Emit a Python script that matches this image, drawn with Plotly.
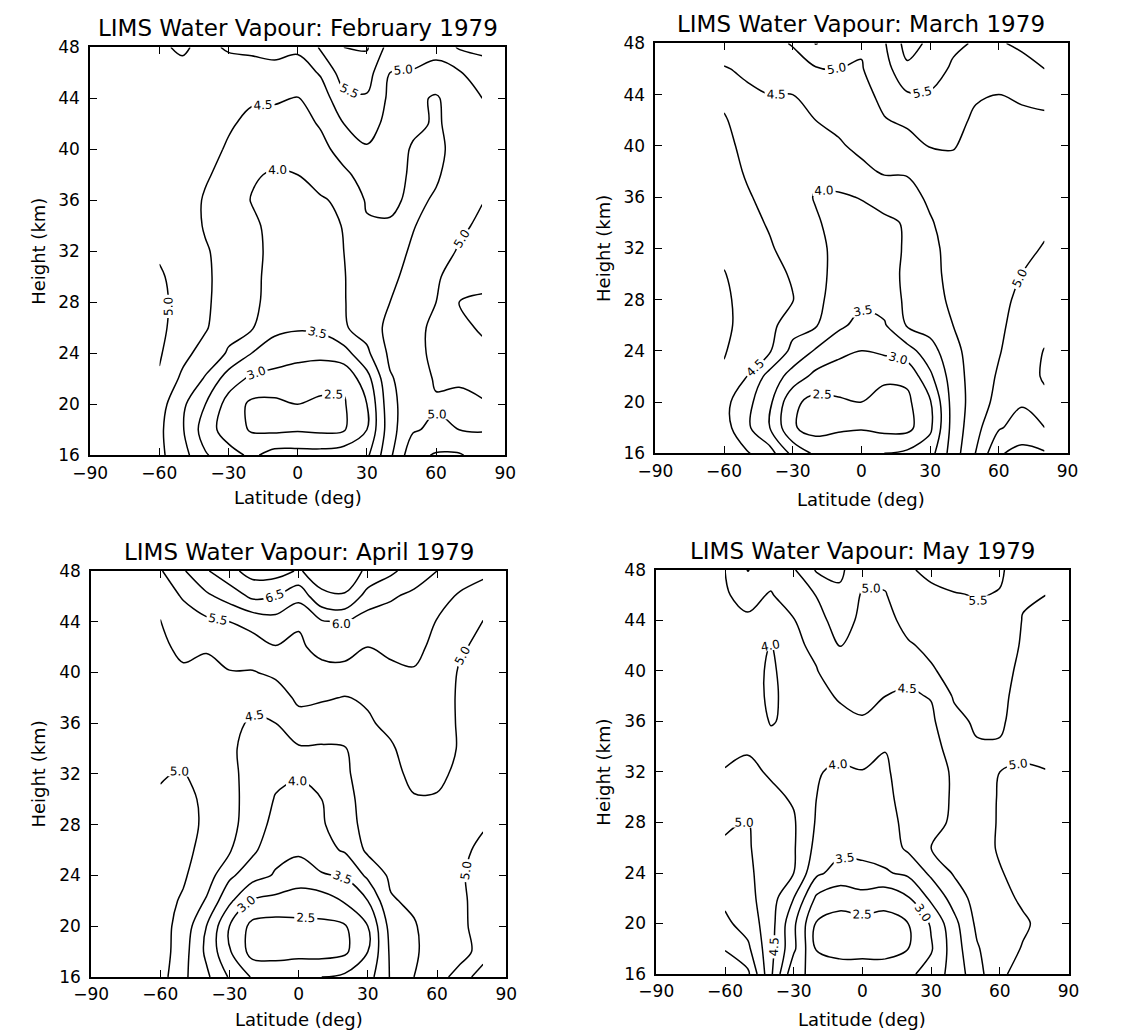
import numpy as np
import plotly.graph_objects as go

# ---------------- data ----------------
latitudes = [-60, -50, -40, -30, -20, -10, 0, 10, 20, 30, 40, 50, 60, 70, 80]
heights = [16, 18, 20, 22, 24, 26, 28, 30, 32, 34, 36, 38, 40, 42, 44, 46, 48]
x_ticks = [-90, -60, -30, 0, 30, 60, 90]
y_ticks = [16, 20, 24, 28, 32, 36, 40, 44, 48]
levels = dict(start=2.5, end=7.0, size=0.5)

# water vapour (ppmv); one list per latitude column, values from 16 km to 48 km
feb_columns = [
    [4.6, 4.6, 4.7, 4.95, 5.05, 5.1, 5.1, 5.05, 4.95, 4.9, 4.85, 4.85, 4.85, 4.85, 4.85, 4.9, 4.95],
    [4.2, 4.05, 4.1, 4.4, 4.65, 4.8, 4.85, 4.85, 4.85, 4.8, 4.75, 4.75, 4.8, 4.8, 4.8, 4.9, 5.05],
    [3.55, 3.25, 3.5, 3.95, 4.3, 4.55, 4.6, 4.6, 4.55, 4.45, 4.45, 4.55, 4.65, 4.7, 4.75, 4.8, 4.9],
    [3.2, 2.75, 2.8, 3.25, 3.95, 4.15, 4.2, 4.25, 4.3, 4.3, 4.3, 4.35, 4.45, 4.55, 4.65, 4.8, 5.05],
    [2.9, 2.45, 2.4, 2.9, 3.5, 4.05, 4.15, 4.15, 4.15, 4.1, 3.98, 4.05, 4.25, 4.4, 4.55, 4.8, 5.1],
    [3.2, 2.4, 2.4, 2.8, 3.3, 3.6, 3.75, 3.8, 3.85, 3.85, 3.85, 3.95, 4.2, 4.35, 4.55, 4.85, 5.15],
    [3.2, 2.45, 2.5, 2.75, 3.15, 3.55, 3.65, 3.7, 3.75, 3.8, 3.85, 4.0, 4.15, 4.3, 4.48, 4.75, 5.1],
    [3.2, 2.4, 2.45, 2.6, 3.15, 3.6, 3.75, 3.8, 3.85, 3.85, 3.95, 4.2, 4.35, 4.55, 4.75, 5.05, 5.55],
    [3.3, 2.45, 2.45, 2.6, 3.3, 3.95, 3.97, 3.97, 4.0, 4.02, 4.1, 4.4, 4.7, 5.0, 5.35, 5.75, 6.0],
    [3.4, 3.0, 3.0, 3.3, 3.9, 4.2, 4.3, 4.35, 4.4, 4.45, 4.55, 4.7, 4.95, 5.2, 5.45, 5.7, 6.05],
    [4.4, 4.3, 4.35, 4.45, 4.6, 4.65, 4.5, 4.4, 4.35, 4.45, 4.6, 4.75, 4.75, 4.85, 4.9, 5.0, 5.3],
    [5.35, 4.95, 4.8, 4.75, 4.8, 4.8, 4.75, 4.65, 4.55, 4.48, 4.4, 4.4, 4.45, 4.6, 4.6, 4.95, 5.3],
    [5.55, 5.1, 4.95, 5.05, 5.15, 5.15, 5.0, 4.9, 4.75, 4.65, 4.55, 4.45, 4.4, 4.45, 4.45, 4.8, 5.2],
    [5.55, 5.0, 4.9, 5.05, 5.25, 5.4, 5.5, 5.35, 5.05, 4.9, 4.8, 4.7, 4.65, 4.65, 4.75, 4.95, 5.55],
    [5.3, 4.97, 4.97, 5.1, 5.4, 5.55, 5.55, 5.4, 5.25, 5.1, 4.98, 4.9, 4.85, 4.9, 5.0, 5.3, 5.6],
]

mar_columns = [
    [5.0, 4.7, 4.65, 4.9, 5.05, 5.15, 5.1, 5.02, 4.9, 4.8, 4.75, 4.7, 4.6, 4.52, 4.45, 4.48, 4.65],
    [4.55, 4.1, 4.15, 4.5, 4.65, 4.75, 4.8, 4.8, 4.75, 4.65, 4.55, 4.45, 4.4, 4.4, 4.45, 4.55, 4.7],
    [4.2, 3.5, 3.6, 3.8, 4.55, 4.65, 4.7, 4.65, 4.55, 4.45, 4.35, 4.3, 4.35, 4.4, 4.5, 4.6, 4.8],
    [3.35, 2.55, 2.6, 3.3, 3.85, 4.2, 4.52, 4.45, 4.3, 4.25, 4.2, 4.25, 4.3, 4.42, 4.5, 4.7, 5.05],
    [2.9, 2.3, 2.35, 2.85, 3.45, 4.05, 4.15, 4.2, 4.15, 4.05, 3.97, 4.1, 4.3, 4.5, 4.65, 4.95, 5.52],
    [2.95, 2.4, 2.45, 2.7, 3.15, 3.6, 3.75, 3.8, 3.85, 3.85, 3.95, 4.2, 4.45, 4.6, 4.75, 5.0, 5.3],
    [3.0, 2.45, 2.5, 2.75, 3.0, 3.35, 3.6, 3.7, 3.75, 3.85, 4.02, 4.4, 4.6, 4.7, 4.82, 4.97, 5.05],
    [3.0, 2.35, 2.4, 2.55, 3.1, 3.45, 3.7, 3.8, 3.85, 3.9, 4.2, 4.55, 4.75, 4.97, 5.15, 5.3, 5.45],
    [3.1, 2.35, 2.4, 2.6, 3.3, 4.05, 4.1, 4.1, 4.05, 4.05, 4.3, 4.55, 4.8, 5.1, 5.45, 5.9, 6.2],
    [3.3, 2.9, 2.95, 3.4, 3.8, 4.2, 4.3, 4.35, 4.35, 4.45, 4.6, 4.8, 5.02, 5.25, 5.45, 5.75, 5.9],
    [4.25, 4.2, 4.2, 4.25, 4.35, 4.5, 4.6, 4.65, 4.7, 4.75, 4.8, 4.9, 5.02, 5.15, 5.3, 5.42, 5.6],
    [5.02, 4.85, 4.75, 4.75, 4.75, 4.78, 4.8, 4.82, 4.82, 4.83, 4.85, 4.88, 4.9, 4.92, 5.05, 5.25, 5.45],
    [5.95, 5.45, 5.15, 5.05, 4.97, 4.93, 4.9, 4.88, 4.87, 4.87, 4.88, 4.9, 4.92, 4.95, 5.0, 5.2, 5.45],
    [6.15, 5.7, 5.45, 5.3, 5.25, 5.15, 5.08, 5.0, 4.93, 4.9, 4.9, 4.92, 4.95, 4.97, 5.02, 5.3, 5.6],
    [6.05, 5.5, 5.4, 5.55, 5.52, 5.35, 5.2, 5.1, 5.02, 4.95, 4.93, 4.93, 4.95, 4.97, 5.05, 5.5, 5.7],
]

apr_columns = [
    [5.2, 5.25, 5.2, 5.15, 5.1, 5.08, 5.05, 5.03, 4.98, 4.9, 4.85, 4.85, 4.88, 4.93, 4.98, 5.2, 5.45],
    [4.6, 4.7, 4.8, 4.95, 5.05, 5.1, 5.1, 5.1, 5.02, 4.9, 4.85, 4.85, 4.95, 5.08, 5.25, 5.55, 5.95],
    [4.1, 3.9, 4.0, 4.45, 4.75, 4.88, 4.95, 4.93, 4.85, 4.75, 4.72, 4.75, 4.85, 5.05, 5.4, 5.9, 6.45],
    [3.45, 3.05, 3.0, 3.6, 4.1, 4.55, 4.65, 4.65, 4.6, 4.55, 4.6, 4.7, 4.98, 5.2, 5.5, 6.2, 6.85],
    [2.95, 2.3, 2.35, 2.95, 3.7, 4.1, 4.25, 4.3, 4.35, 4.4, 4.45, 4.6, 4.97, 5.3, 5.65, 6.6, 7.2],
    [2.95, 2.25, 2.3, 2.85, 3.45, 3.65, 3.85, 3.97, 4.1, 4.3, 4.5, 4.75, 5.1, 5.48, 5.8, 6.5, 7.2],
    [3.0, 2.3, 2.35, 2.8, 3.2, 3.6, 3.75, 3.85, 4.05, 4.45, 4.8, 5.1, 5.3, 5.42, 5.55, 6.15, 6.95],
    [3.0, 2.3, 2.4, 2.75, 3.45, 3.85, 3.95, 4.0, 4.2, 4.45, 4.75, 5.05, 5.35, 5.65, 5.95, 6.9, 7.25],
    [3.1, 2.4, 2.45, 3.05, 3.55, 4.05, 4.25, 4.3, 4.4, 4.47, 4.75, 4.98, 5.3, 5.75, 6.05, 6.95, 7.3],
    [3.3, 3.0, 3.0, 3.5, 4.1, 4.6, 4.7, 4.75, 4.8, 4.85, 4.95, 5.05, 5.3, 5.5, 5.75, 6.3, 6.9],
    [4.05, 4.1, 4.2, 4.45, 4.6, 4.7, 4.75, 4.8, 4.88, 4.95, 5.1, 5.25, 5.45, 5.55, 5.8, 6.05, 6.6],
    [4.5, 4.4, 4.45, 4.6, 4.7, 4.8, 4.88, 4.97, 5.1, 5.2, 5.3, 5.4, 5.47, 5.6, 5.75, 5.9, 6.25],
    [4.95, 4.85, 4.8, 4.8, 4.82, 4.85, 4.9, 4.97, 5.08, 5.15, 5.2, 5.25, 5.3, 5.4, 5.48, 5.65, 6.0],
    [5.05, 4.95, 4.92, 4.93, 4.97, 4.95, 4.92, 4.9, 4.92, 4.97, 4.95, 4.93, 4.95, 5.05, 5.3, 5.45, 5.7],
    [4.95, 5.05, 5.15, 5.15, 5.1, 5.05, 4.98, 4.9, 4.85, 4.82, 4.82, 4.82, 4.85, 4.9, 4.98, 5.4, 5.55],
]

may_columns = [
    [6.25, 5.98, 5.6, 5.4, 5.2, 5.05, 4.95, 4.75, 4.52, 4.4, 4.35, 4.35, 4.38, 4.42, 4.45, 4.47, 4.5],
    [6.1, 5.6, 5.3, 5.15, 5.1, 5.05, 5.02, 4.85, 4.6, 4.45, 4.3, 4.25, 4.25, 4.35, 4.45, 4.6, 5.02],
    [4.6, 4.65, 4.7, 4.72, 4.72, 4.72, 4.7, 4.6, 4.45, 4.15, 3.97, 3.9, 3.9, 3.97, 4.2, 4.47, 4.65],
    [3.1, 3.6, 3.6, 4.0, 4.5, 4.55, 4.55, 4.45, 4.2, 4.03, 4.1, 4.2, 4.3, 4.4, 4.48, 4.7, 4.95],
    [2.9, 2.45, 2.45, 2.9, 3.6, 3.85, 3.95, 4.0, 4.02, 4.15, 4.25, 4.35, 4.48, 4.6, 4.75, 5.02, 5.55],
    [2.8, 2.3, 2.3, 2.7, 3.3, 3.65, 3.8, 3.9, 3.95, 4.1, 4.35, 4.55, 4.8, 5.02, 5.3, 5.4, 5.6],
    [2.8, 2.3, 2.35, 2.8, 3.4, 3.6, 3.75, 3.85, 3.98, 4.2, 4.45, 4.65, 4.75, 4.8, 4.85, 4.95, 5.15],
    [2.8, 2.3, 2.35, 2.65, 3.45, 3.7, 3.8, 3.88, 3.93, 4.02, 4.3, 4.5, 4.65, 4.75, 4.85, 4.97, 5.15],
    [2.9, 2.5, 2.5, 2.95, 3.6, 4.1, 4.15, 4.2, 4.25, 4.3, 4.38, 4.45, 4.6, 4.95, 5.15, 5.35, 5.45],
    [3.2, 2.95, 3.05, 3.6, 4.1, 4.5, 4.4, 4.32, 4.33, 4.37, 4.42, 4.52, 4.95, 5.1, 5.25, 5.4, 5.6],
    [3.7, 3.75, 3.85, 4.2, 4.55, 4.6, 4.55, 4.55, 4.55, 4.65, 4.85, 5.05, 5.15, 5.25, 5.35, 5.47, 5.7],
    [4.3, 4.45, 4.6, 4.7, 4.75, 4.8, 4.85, 4.88, 4.9, 4.95, 5.08, 5.2, 5.3, 5.38, 5.45, 5.52, 5.75],
    [4.95, 4.85, 4.85, 4.9, 4.97, 5.05, 5.03, 5.02, 5.0, 4.97, 5.05, 5.1, 5.15, 5.25, 5.4, 5.48, 5.55],
    [5.1, 5.02, 4.95, 5.05, 5.15, 5.2, 5.2, 5.15, 5.05, 4.9, 4.85, 4.85, 4.9, 4.95, 4.98, 5.05, 5.3],
    [5.2, 5.15, 5.1, 5.1, 5.15, 5.15, 5.1, 5.05, 5.01, 4.92, 4.85, 4.85, 4.88, 4.92, 4.96, 5.0, 5.2],
]

titles = [
    "LIMS Water Vapour: February 1979",
    "LIMS Water Vapour: March 1979",
    "LIMS Water Vapour: April 1979",
    "LIMS Water Vapour: May 1979",
]
x_title = "Latitude (deg)"
y_title = "Height (km)"

# ---------------- layout geometry (pixels) ----------------
W, H = 1138, 1036
# plot boxes: left, right, top, bottom
boxes = [(74, 500, 38, 454), (654, 1077, 34, 452), (75, 501, 572, 986), (655, 1078, 571, 983)]
xtitle_y = [497, 499, 1029, 1029]
ytitle_x = [20, 600, 20, 600]

def px(x):
    return x / W

def py(y):
    return 1 - y / H

FONT = "DejaVu Sans"
fig = go.Figure()
panels = [feb_columns, mar_columns, apr_columns, may_columns]
annotations = []
shapes = []
for i, (cols, (l, r, t, b)) in enumerate(zip(panels, boxes)):
    n = "" if i == 0 else str(i + 1)
    z = np.array(cols).T
    fig.add_trace(go.Contour(
        x=latitudes, y=heights, z=z,
        xaxis="x" + n, yaxis="y" + n,
        contours=dict(coloring="lines", showlabels=True,
                      labelfont=dict(size=12, color="black", family=FONT),
                      labelformat=".1f", **levels),
        colorscale=[[0, "black"], [1, "black"]],
        line=dict(width=1.5, smoothing=1.0),
        showscale=False, hoverinfo="skip",
    ))
    axis_common = dict(showline=True, linecolor="black", linewidth=1.8, mirror="ticks",
                       ticks="inside", ticklen=7, tickwidth=1.3, tickcolor="black",
                       showgrid=False, zeroline=False,
                       tickfont=dict(family=FONT, size=17, color="black"))
    fig.layout["xaxis" + n] = dict(domain=[px(l), px(r)], range=[-90, 90], tickvals=x_ticks,
                                   anchor="y" + n, ticklabelstandoff=1, **axis_common)
    fig.layout["yaxis" + n] = dict(domain=[py(b), py(t)], range=[16, 48], tickvals=y_ticks,
                                   anchor="x" + n, ticklabelstandoff=5, **axis_common)
    annotations.append(dict(text=titles[i], x=px((l + r) / 2), y=py(t), xref="paper", yref="paper",
                            xanchor="center", yanchor="bottom", yshift=4, showarrow=False,
                            font=dict(family=FONT, size=23, color="black")))
    annotations.append(dict(text=x_title, x=px((l + r) / 2), y=py(xtitle_y[i]), xref="paper", yref="paper",
                            xanchor="center", yanchor="middle", showarrow=False,
                            font=dict(family=FONT, size=18, color="black")))
    # vertical axis title drawn as the label of an invisible vertical line
    shapes.append(dict(type="line", xref="paper", yref="paper",
                       x0=px(ytitle_x[i]), x1=px(ytitle_x[i]), y0=py(b), y1=py(t),
                       line=dict(width=0, color="rgba(0,0,0,0)"),
                       label=dict(text=y_title, textangle=-90, textposition="middle",
                                  xanchor="center", yanchor="middle", padding=0,
                                  font=dict(family=FONT, size=18, color="black"))))

fig.update_layout(width=W, height=H, margin=dict(l=0, r=0, t=0, b=0),
                  paper_bgcolor="white", plot_bgcolor="white", showlegend=False,
                  annotations=annotations, shapes=shapes)
fig.write_html("out.html")
